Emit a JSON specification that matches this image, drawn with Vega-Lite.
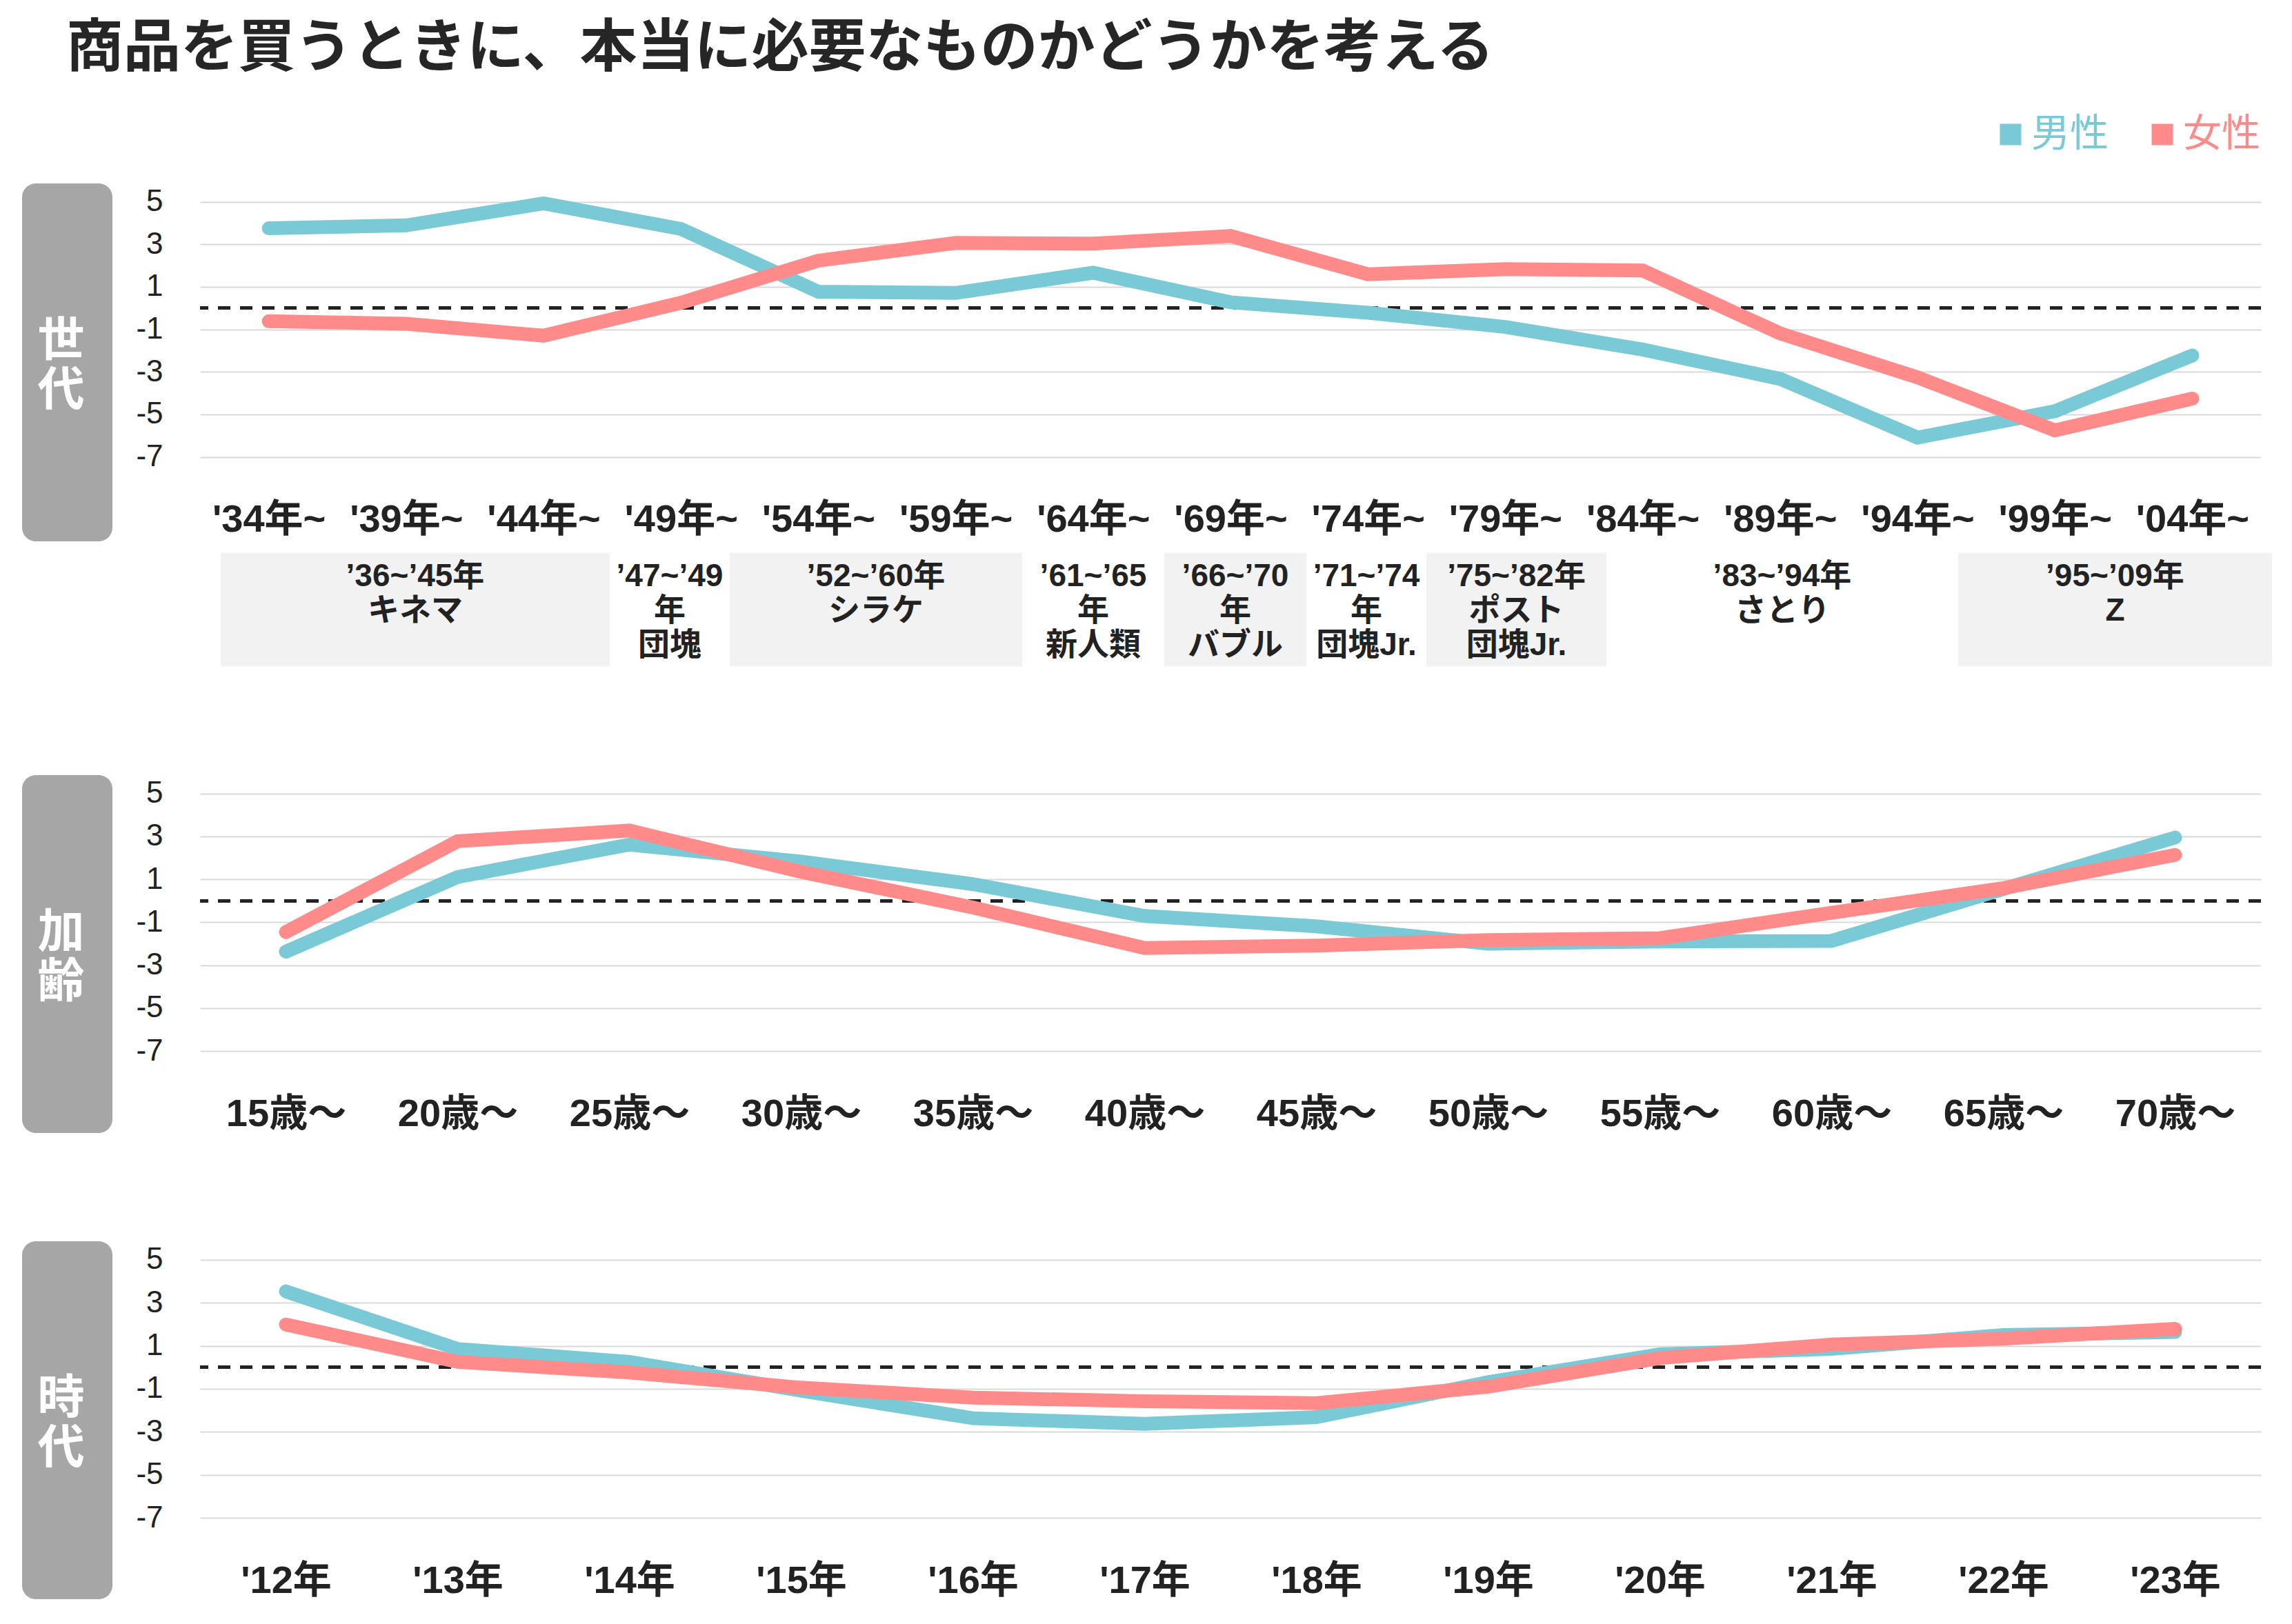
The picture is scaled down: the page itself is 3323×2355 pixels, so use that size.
{
  "$schema": "https://vega.github.io/schema/vega-lite/v6.json",
  "background": "white",
  "padding": {"left": 32, "top": 30, "right": 20, "bottom": 10},
  "title": {
    "text": "商品を買うときに、本当に必要なものかどうかを考える",
    "anchor": "start",
    "fontSize": 83,
    "fontWeight": "bold",
    "font": "Noto Sans CJK JP",
    "color": "#262626",
    "dx": 64,
    "offset": 54
  },
  "datasets": {
    "gen": [
      {"cat": "'34年~", "sex": "男性", "value": 3.75},
      {"cat": "'39年~", "sex": "男性", "value": 3.89},
      {"cat": "'44年~", "sex": "男性", "value": 4.92},
      {"cat": "'49年~", "sex": "男性", "value": 3.72},
      {"cat": "'54年~", "sex": "男性", "value": 0.77},
      {"cat": "'59年~", "sex": "男性", "value": 0.71},
      {"cat": "'64年~", "sex": "男性", "value": 1.66},
      {"cat": "'69年~", "sex": "男性", "value": 0.27},
      {"cat": "'74年~", "sex": "男性", "value": -0.22},
      {"cat": "'79年~", "sex": "男性", "value": -0.89},
      {"cat": "'84年~", "sex": "男性", "value": -1.95},
      {"cat": "'89年~", "sex": "男性", "value": -3.33},
      {"cat": "'94年~", "sex": "男性", "value": -6.09},
      {"cat": "'99年~", "sex": "男性", "value": -4.85},
      {"cat": "'04年~", "sex": "男性", "value": -2.23},
      {"cat": "'34年~", "sex": "女性", "value": -0.62},
      {"cat": "'39年~", "sex": "女性", "value": -0.74},
      {"cat": "'44年~", "sex": "女性", "value": -1.3},
      {"cat": "'49年~", "sex": "女性", "value": 0.25},
      {"cat": "'54年~", "sex": "女性", "value": 2.23},
      {"cat": "'59年~", "sex": "女性", "value": 3.06},
      {"cat": "'64年~", "sex": "女性", "value": 3.03},
      {"cat": "'69年~", "sex": "女性", "value": 3.39},
      {"cat": "'74年~", "sex": "女性", "value": 1.59},
      {"cat": "'79年~", "sex": "女性", "value": 1.83},
      {"cat": "'84年~", "sex": "女性", "value": 1.77},
      {"cat": "'89年~", "sex": "女性", "value": -1.19},
      {"cat": "'94年~", "sex": "女性", "value": -3.26},
      {"cat": "'99年~", "sex": "女性", "value": -5.75},
      {"cat": "'04年~", "sex": "女性", "value": -4.26}
    ],
    "age": [
      {"cat": "15歳～", "sex": "男性", "value": -2.37},
      {"cat": "20歳～", "sex": "男性", "value": 1.11},
      {"cat": "25歳～", "sex": "男性", "value": 2.62},
      {"cat": "30歳～", "sex": "男性", "value": 1.83},
      {"cat": "35歳～", "sex": "男性", "value": 0.78},
      {"cat": "40歳～", "sex": "男性", "value": -0.71},
      {"cat": "45歳～", "sex": "男性", "value": -1.19},
      {"cat": "50歳～", "sex": "男性", "value": -2.0},
      {"cat": "55歳～", "sex": "男性", "value": -1.9},
      {"cat": "60歳～", "sex": "男性", "value": -1.87},
      {"cat": "65歳～", "sex": "男性", "value": 0.55},
      {"cat": "70歳～", "sex": "男性", "value": 2.95},
      {"cat": "15歳～", "sex": "女性", "value": -1.46},
      {"cat": "20歳～", "sex": "女性", "value": 2.78},
      {"cat": "25歳～", "sex": "女性", "value": 3.28},
      {"cat": "30歳～", "sex": "女性", "value": 1.35},
      {"cat": "35歳～", "sex": "女性", "value": -0.31},
      {"cat": "40歳～", "sex": "女性", "value": -2.2},
      {"cat": "45歳～", "sex": "女性", "value": -2.09},
      {"cat": "50歳～", "sex": "女性", "value": -1.83},
      {"cat": "55歳～", "sex": "女性", "value": -1.74},
      {"cat": "60歳～", "sex": "女性", "value": -0.56},
      {"cat": "65歳～", "sex": "女性", "value": 0.59},
      {"cat": "70歳～", "sex": "女性", "value": 2.14}
    ],
    "period": [
      {"cat": "'12年", "sex": "男性", "value": 3.53},
      {"cat": "'13年", "sex": "男性", "value": 0.85},
      {"cat": "'14年", "sex": "男性", "value": 0.25},
      {"cat": "'15年", "sex": "男性", "value": -1.09},
      {"cat": "'16年", "sex": "男性", "value": -2.37},
      {"cat": "'17年", "sex": "男性", "value": -2.63},
      {"cat": "'18年", "sex": "男性", "value": -2.32},
      {"cat": "'19年", "sex": "男性", "value": -0.69},
      {"cat": "'20年", "sex": "男性", "value": 0.6},
      {"cat": "'21年", "sex": "男性", "value": 0.86},
      {"cat": "'22年", "sex": "男性", "value": 1.5},
      {"cat": "'23年", "sex": "男性", "value": 1.64},
      {"cat": "'12年", "sex": "女性", "value": 1.99},
      {"cat": "'13年", "sex": "女性", "value": 0.25},
      {"cat": "'14年", "sex": "女性", "value": -0.24},
      {"cat": "'15年", "sex": "女性", "value": -0.95},
      {"cat": "'16年", "sex": "女性", "value": -1.41},
      {"cat": "'17年", "sex": "女性", "value": -1.58},
      {"cat": "'18年", "sex": "女性", "value": -1.67},
      {"cat": "'19年", "sex": "女性", "value": -0.9},
      {"cat": "'20年", "sex": "女性", "value": 0.43},
      {"cat": "'21年", "sex": "女性", "value": 1.06},
      {"cat": "'22年", "sex": "女性", "value": 1.33},
      {"cat": "'23年", "sex": "女性", "value": 1.79}
    ],
    "generations": [
      {"label": "’36~’45年\nキネマ", "start": -0.35, "end": 2.482},
      {"label": "’47~’49\n年\n団塊", "start": 2.482, "end": 3.355},
      {"label": "’52~’60年\nシラケ", "start": 3.355, "end": 5.484},
      {"label": "’61~’65\n年\n新人類", "start": 5.484, "end": 6.518},
      {"label": "’66~’70\n年\nバブル", "start": 6.518, "end": 7.552},
      {"label": "’71~’74\n年\n団塊Jr.", "start": 7.552, "end": 8.426},
      {"label": "’75~’82年\nポスト\n団塊Jr.", "start": 8.426, "end": 9.736},
      {"label": "’83~’94年\nさとり", "start": 9.736, "end": 12.296},
      {"label": "’95~’09年\nZ", "start": 12.296, "end": 14.58}
    ]
  },
  "vconcat": [
    {
      "hconcat": [
        {
          "width": 131,
          "height": 519,
          "view": {"fill": "#a6a6a6", "cornerRadius": 20, "stroke": null},
          "data": {"values": [{"label": "世\n代"}]},
          "mark": {"type": "text", "color": "white", "fontSize": 68, "fontWeight": "bold", "font": "Noto Sans CJK JP", "lineBreak": "\n", "lineHeight": 72, "baseline": "middle", "align": "center", "dx": -9, "dy": -30},
          "encoding": {"text": {"field": "label", "type": "nominal"}}
        },
        {
          "vconcat": [
            {
              "width": 2988,
              "height": 396.6,
              "data": {"name": "gen"},
              "layer": [
                {
                  "mark": {"type": "rule", "color": "#222222", "strokeWidth": 4, "strokeDash": [18, 14]},
                  "encoding": {"y": {"datum": 0, "type": "quantitative"}}
                },
                {
                  "mark": {"type": "line", "strokeWidth": 20, "strokeCap": "round", "strokeJoin": "miter"},
                  "encoding": {
                    "x": {"field": "cat", "type": "ordinal", "sort": null, "scale": {"type": "point", "padding": 0.5}},
                    "y": {"field": "value", "type": "quantitative", "scale": {"domain": [-7, 5.86], "nice": false, "zero": false}, "axis": {"values": [-7, -5, -3, -1, 1, 3, 5], "labelExpr": "'' + datum.value"}},
                    "color": {
                      "field": "sex", "type": "nominal", "sort": null,
                      "scale": {"domain": ["男性", "女性"], "range": ["#79C9D6", "#FF8A8A"]},
                      "legend": {
                        "orient": "none", "legendX": 2855, "legendY": -99, "direction": "horizontal", "title": null,
                        "symbolType": "square", "symbolSize": 961, "symbolStrokeWidth": 0,
                        "labelFontSize": 56, "labelFont": "Noto Sans CJK JP", "columnPadding": 50, "labelOffset": 2,
                        "encode": {
                          "labels": {"update": {"fill": {"scale": "color", "field": "value"}}},
                          "symbols": {"update": {"fill": {"scale": "color", "field": "value"}, "stroke": {"value": "transparent"}, "opacity": {"value": 1}}}
                        }
                      }
                    }
                  }
                }
              ]
            },
            {
              "width": 2988,
              "height": 165,
              "data": {"name": "generations"},
              "layer": [
                {
                  "transform": [{"window": [{"op": "row_number", "as": "i"}]}, {"filter": "datum.i % 2 == 1"}],
                  "mark": {"type": "rect", "color": "#f2f2f2"},
                  "encoding": {
                    "x": {"field": "start", "type": "quantitative", "scale": {"domain": [-0.5, 14.5], "nice": false, "zero": false}, "axis": null},
                    "x2": {"field": "end"}
                  }
                },
                {
                  "transform": [{"calculate": "(datum.start + datum.end) / 2", "as": "mid"}],
                  "mark": {"type": "text", "fontSize": 46, "fontWeight": "bold", "color": "#222222", "font": "Liberation Sans, Noto Sans CJK JP", "baseline": "top", "lineBreak": "\n", "lineHeight": 50, "dy": -70},
                  "encoding": {
                    "x": {"field": "mid", "type": "quantitative", "axis": null},
                    "text": {"field": "label", "type": "nominal"}
                  }
                }
              ]
            }
          ],
          "spacing": 138.4,
          "bounds": "flush"
        }
      ],
      "spacing": 127,
      "bounds": "flush"
    },
    {
      "hconcat": [
        {
          "width": 131,
          "height": 519,
          "view": {"fill": "#a6a6a6", "cornerRadius": 20, "stroke": null},
          "data": {"values": [{"label": "加\n齢"}]},
          "mark": {"type": "text", "color": "white", "fontSize": 68, "fontWeight": "bold", "font": "Noto Sans CJK JP", "lineBreak": "\n", "lineHeight": 72, "baseline": "middle", "align": "center", "dx": -9, "dy": -30},
          "encoding": {"text": {"field": "label", "type": "nominal"}}
        },
        {
          "width": 2988,
          "height": 400,
          "data": {"name": "age"},
          "layer": [
            {
              "mark": {"type": "rule", "color": "#222222", "strokeWidth": 4, "strokeDash": [18, 14]},
              "encoding": {"y": {"datum": 0, "type": "quantitative"}}
            },
            {
              "mark": {"type": "line", "strokeWidth": 20, "strokeCap": "round", "strokeJoin": "miter"},
              "encoding": {
                "x": {"field": "cat", "type": "ordinal", "sort": null, "scale": {"type": "point", "padding": 0.5}},
                "y": {"field": "value", "type": "quantitative", "scale": {"domain": [-7, 5.86], "nice": false, "zero": false}, "axis": {"values": [-7, -5, -3, -1, 1, 3, 5], "labelExpr": "'' + datum.value"}},
                "color": {"field": "sex", "type": "nominal", "sort": null}
              }
            }
          ]
        }
      ],
      "spacing": 127,
      "bounds": "flush"
    },
    {
      "hconcat": [
        {
          "width": 131,
          "height": 519,
          "view": {"fill": "#a6a6a6", "cornerRadius": 20, "stroke": null},
          "data": {"values": [{"label": "時\n代"}]},
          "mark": {"type": "text", "color": "white", "fontSize": 68, "fontWeight": "bold", "font": "Noto Sans CJK JP", "lineBreak": "\n", "lineHeight": 72, "baseline": "middle", "align": "center", "dx": -9, "dy": -30},
          "encoding": {"text": {"field": "label", "type": "nominal"}}
        },
        {
          "width": 2988,
          "height": 401,
          "data": {"name": "period"},
          "layer": [
            {
              "mark": {"type": "rule", "color": "#222222", "strokeWidth": 4, "strokeDash": [18, 14]},
              "encoding": {"y": {"datum": 0, "type": "quantitative"}}
            },
            {
              "mark": {"type": "line", "strokeWidth": 20, "strokeCap": "round", "strokeJoin": "miter"},
              "encoding": {
                "x": {"field": "cat", "type": "ordinal", "sort": null, "scale": {"type": "point", "padding": 0.5}},
                "y": {"field": "value", "type": "quantitative", "scale": {"domain": [-7, 5.86], "nice": false, "zero": false}, "axis": {"values": [-7, -5, -3, -1, 1, 3, 5], "labelExpr": "'' + datum.value"}},
                "color": {"field": "sex", "type": "nominal", "sort": null}
              }
            }
          ]
        }
      ],
      "spacing": 127,
      "bounds": "flush"
    }
  ],
  "spacing": 157,
  "bounds": "full",
  "config": {
    "view": {"stroke": null},
    "axis": {"domain": false, "ticks": false, "title": null, "labelColor": "#222222", "gridColor": "#d9d9d9", "gridWidth": 2},
    "axisX": {"grid": false, "labelAngle": 0, "labelFontSize": 56, "labelFontWeight": "bold", "labelFont": "Liberation Sans Narrow, Liberation Sans, Noto Sans CJK JP", "labelPadding": 64},
    "axisY": {"grid": true, "labelFontSize": 44, "labelFont": "Liberation Sans Narrow, Liberation Sans", "labelPadding": 54}
  }
}
